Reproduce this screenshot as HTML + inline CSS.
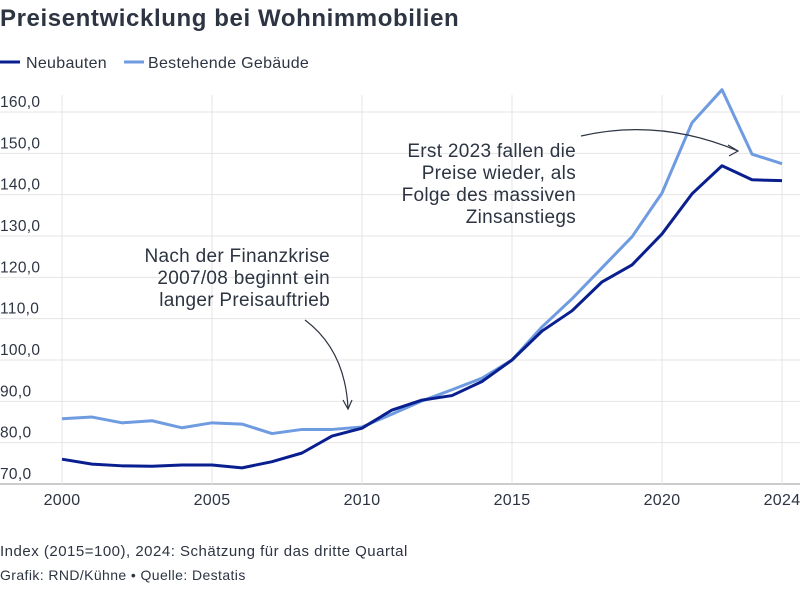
<!DOCTYPE html>
<html><head><meta charset="utf-8"><style>
body{margin:0;background:#fff;font-family:"Liberation Sans",sans-serif;}
svg text{font-family:"Liberation Sans",sans-serif;}
</style></head><body>
<svg width="800" height="585" viewBox="0 0 800 585">
<text x="0" y="26" font-size="24" font-weight="bold" letter-spacing="0.6" fill="#2d3442">Preisentwicklung bei Wohnimmobilien</text>
<g>
<line x1="0" y1="62" x2="20" y2="62" stroke="#0a1f8f" stroke-width="3"/>
<text x="26" y="68" font-size="16" letter-spacing="0.3" fill="#2d3442">Neubauten</text>
<line x1="124" y1="62" x2="144" y2="62" stroke="#6f9be0" stroke-width="3"/>
<text x="148" y="68" font-size="16" letter-spacing="0.3" fill="#2d3442">Bestehende Gebäude</text>
</g>
<g id="grid"></g><g id="axes"></g><g id="series"></g>
<g font-size="19" letter-spacing="0.3" fill="#2d3442" text-anchor="end">
<text x="330" y="262">Nach der Finanzkrise</text>
<text x="330" y="284">2007/08 beginnt ein</text>
<text x="330" y="306">langer Preisauftrieb</text>
<path d="M305 320 Q345 350 348 408" fill="none" stroke="#2d3442" stroke-width="1.2"/>
<path d="M343 400 L348 409 L352 400" fill="none" stroke="#2d3442" stroke-width="1.2"/>
</g>
<g font-size="19" letter-spacing="0.3" fill="#2d3442" text-anchor="end">
<text x="576" y="157">Erst 2023 fallen die</text>
<text x="576" y="179">Preise wieder, als</text>
<text x="576" y="201">Folge des massiven</text>
<text x="576" y="223">Zinsanstiegs</text>
<path d="M581 136 Q660 118 738 151" fill="none" stroke="#2d3442" stroke-width="1.2"/>
<path d="M728 145 L738 151 L729 156" fill="none" stroke="#2d3442" stroke-width="1.2"/>
</g>
<text x="0" y="556" font-size="15" letter-spacing="0.5" fill="#2d3442">Index (2015=100), 2024: Schätzung für das dritte Quartal</text>
<text x="0" y="580" font-size="14" letter-spacing="0.4" fill="#2d3442">Grafik: RND/Kühne • Quelle: Destatis</text>
</svg>
<script>
const years=[2000,2001,2002,2003,2004,2005,2006,2007,2008,2009,2010,2011,2012,2013,2014,2015,2016,2017,2018,2019,2020,2021,2022,2023,2024];
const neubauten=[76.0,74.8,74.4,74.3,74.6,74.6,73.9,75.4,77.5,81.6,83.5,87.9,90.3,91.4,94.8,100,107,111.9,118.9,123,130.5,140.2,147,143.6,143.4];
const bestehende=[85.8,86.2,84.8,85.3,83.6,84.8,84.5,82.2,83.2,83.2,83.8,86.9,90.1,92.8,95.6,100,108,114.8,122.3,129.8,140.4,157.4,165.4,149.8,147.5];
const yTicks=[70,80,90,100,110,120,130,140,150,160];
const xTicks=[2000,2005,2010,2015,2020,2024];
const NS="http://www.w3.org/2000/svg";
const x=v=>62+(v-2000)*30;
const y=v=>484-(v-70)*4.1333;
function mk(tag,attrs,parent){const e=document.createElementNS(NS,tag);for(const k in attrs)e.setAttribute(k,attrs[k]);parent.appendChild(e);return e;}
const grid=document.getElementById('grid'),axes=document.getElementById('axes'),series=document.getElementById('series');
yTicks.forEach(t=>{
 const l=mk('line',{x1:0,x2:800,y1:y(t),y2:y(t),stroke:t===70?'#9a9a9a':'#e4e4e4','stroke-width':1},grid);
 
 
 const tx=mk('text',{x:0,y:y(t)-5,'font-size':15.5,'letter-spacing':0.3,fill:'#2d3442'},axes);
 tx.textContent=t.toFixed(1).replace('.',',');
 
 
});
xTicks.forEach(t=>{
 const l=mk('line',{x1:x(t),x2:x(t),y1:95,y2:484,stroke:'#e4e4e4','stroke-width':1},grid);
 
 
 const tx=mk('text',{x:x(t),y:505,'font-size':16,'letter-spacing':0.3,fill:'#2d3442','text-anchor':'middle'},axes);
 tx.textContent=t;
 
 
});
function line(vals,color,name){
 const p=mk('polyline',{points:vals.map((v,i)=>x(years[i])+','+y(v)).join(' '),fill:'none',stroke:color,'stroke-width':3,'stroke-linejoin':'round'},series);
 
 
}
line(bestehende,'#6f9be0','line-bestehende');
line(neubauten,'#0a1f8f','line-neubauten');
</script>
</body></html>
